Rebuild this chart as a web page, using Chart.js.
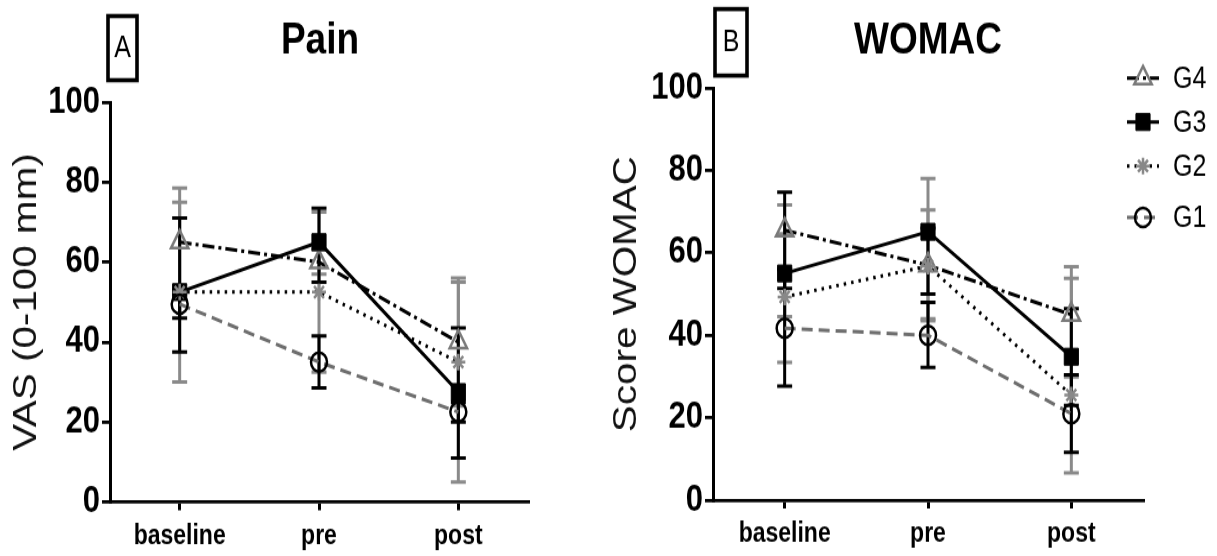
<!DOCTYPE html>
<html><head><meta charset="utf-8">
<script src="https://cdn.jsdelivr.net/npm/chart.js@4.4.1/dist/chart.umd.min.js"></script>
<style>
html,body{margin:0;padding:0;background:#fff;width:1217px;height:556px;overflow:hidden}
canvas{position:absolute;top:0}
#ca{left:0px;width:600px;height:556px}
#cb{left:600px;width:617px;height:556px}
</style></head><body>
<canvas id="ca" width="600" height="468" style="width:600px;height:556px"></canvas>
<canvas id="cb" width="617" height="468" style="width:617px;height:556px"></canvas>
<script>
// ---------- data ----------
const categories = ['baseline', 'pre', 'post'];
const yTicks = [0, 20, 40, 60, 80, 100];
const seriesNames = ['G1', 'G2', 'G3', 'G4'];

// Panel A: Pain, VAS (0-100 mm)
const painG1 = [49.5, 35, 22.5];
const painG2 = [52.5, 52.5, 35];
const painG3 = [52.5, 65, 27.5];
const painG4 = [65, 60, 40];
const painG1Err = [[46, 53], [28.5, 41.5], [20, 25]];
const painG2Err = [[30, 75], [32.5, 72.5], [5, 55]];
const painG3Err = [[37.5, 71], [55, 73.5], [11, 43.5]];
const painG4Err = [[52, 78.5], [57, 63], [24, 56]];

// Panel B: WOMAC score
const womacG1 = [41.7, 40, 21];
const womacG2 = [49.3, 56.8, 25.5];
const womacG3 = [55, 65.1, 34.8];
const womacG4 = [65.5, 57, 45];
const womacG1Err = [[27.7, 56], [32.2, 48], [11.6, 30.4]];
const womacG2Err = [[33.4, 64.6], [43.5, 78], [6.6, 53.8]];
const womacG3Err = [[51.4, 74.7], [50, 66], [23, 46.5]];
const womacG4Err = [[44.5, 71.6], [44, 70.4], [29.9, 56.6]];

// ---------- styles ----------
const SANS = "'Liberation Sans',Arial,'DejaVu Sans',sans-serif";
const GRAY_ERR = '#8a8a8a';

function makeDatasets(vals, errs) {
  return [
    { label: seriesNames[0], data: vals[0], errorBars: errs[0], errColor: '#000',
      borderColor: '#6e6e6e', borderDash: [11, 6], borderWidth: 3,
      pointStyle: 'circle', pointRadius: 8, pointBorderColor: '#000',
      pointBackgroundColor: 'rgba(255,255,255,0)', pointBorderWidth: 2.5 },
    { label: seriesNames[1], data: vals[1], errorBars: errs[1], errColor: GRAY_ERR,
      borderColor: '#000', borderDash: [2.5, 5], borderWidth: 3,
      pointStyle: 'star', pointRadius: 7, pointBorderColor: '#888',
      pointBackgroundColor: '#888', pointBorderWidth: 2.5 },
    { label: seriesNames[2], data: vals[2], errorBars: errs[2], errColor: '#000',
      borderColor: '#000', borderWidth: 3,
      pointStyle: 'rect', pointRadius: 10, pointBorderColor: '#000',
      pointBackgroundColor: '#000', pointBorderWidth: 1 },
    { label: seriesNames[3], data: vals[3], errorBars: errs[3], errColor: GRAY_ERR,
      borderColor: '#000', borderDash: [12, 4, 3, 4], borderWidth: 3,
      pointStyle: 'triangle', pointRadius: 10, pointBorderColor: '#7a7a7a',
      pointBackgroundColor: 'rgba(255,255,255,0)', pointBorderWidth: 2.5 }
  ];
}

const errorBarPlugin = {
  id: 'errorBars',
  beforeDatasetsDraw(chart) {
    const { ctx } = chart;
    const xs = chart.scales.x, ys = chart.scales.y;
    const order = [1, 3, 0, 2];
    order.forEach(di => {
      const ds = chart.data.datasets[di];
      if (!ds || !ds.errorBars) return;
      ctx.save();
      ctx.strokeStyle = ds.errColor;
      ctx.lineWidth = 3;
      ctx.setLineDash([]);
      ds.errorBars.forEach((pair, i) => {
        const px = xs.getPixelForValue(i);
        const y1 = ys.getPixelForValue(pair[0]);
        const y2 = ys.getPixelForValue(pair[1]);
        ctx.beginPath();
        ctx.moveTo(px, y1); ctx.lineTo(px, y2);
        ctx.moveTo(px - 7.5, y1); ctx.lineTo(px + 7.5, y1);
        ctx.moveTo(px - 7.5, y2); ctx.lineTo(px + 7.5, y2);
        ctx.stroke();
      });
      ctx.restore();
    });
  }
};

function decorPlugin(title, titleX, letter, box) {
  return {
    id: 'decor',
    afterDraw(chart) {
      const ctx = chart.ctx;
      ctx.save();
      ctx.fillStyle = '#000';
      ctx.textAlign = 'center';
      ctx.textBaseline = 'alphabetic';
      ctx.font = 'bold 37px ' + SANS;
      ctx.fillText(title, titleX, 44.5);
      ctx.lineWidth = 3.6;
      ctx.strokeStyle = '#000';
      ctx.strokeRect(box[0], box[1], box[2], box[3]);
      ctx.font = '25px ' + SANS;
      ctx.textBaseline = 'middle';
      ctx.fillText(letter, box[0] + box[2] / 2, box[1] + box[3] / 2 + 1);
      ctx.restore();
    }
  };
}

const legendPlugin = {
  id: 'customLegend',
  afterDraw(chart) {
    const ctx = chart.ctx;
    const rows = [[3, 65.7], [2, 102.7], [1, 139.7], [0, 183]];
    rows.forEach(([di, y]) => {
      const ds = chart.data.datasets[di];
      ctx.save();
      ctx.strokeStyle = ds.borderColor;
      ctx.lineWidth = ds.borderWidth;
      ctx.setLineDash(ds.borderDash || []);
      ctx.beginPath();
      ctx.moveTo(527, y); ctx.lineTo(559, y);
      ctx.stroke();
      ctx.setLineDash([]);
      ctx.fillStyle = ds.pointBackgroundColor;
      ctx.strokeStyle = ds.pointBorderColor;
      ctx.lineWidth = ds.pointBorderWidth;
      if (Chart.helpers && Chart.helpers.drawPoint) {
        Chart.helpers.drawPoint(ctx, { pointStyle: ds.pointStyle, rotation: 0,
          radius: ds.pointRadius, borderWidth: ds.pointBorderWidth }, 543, y);
      }
      ctx.fillStyle = '#000';
      ctx.font = '25px ' + SANS;
      ctx.textAlign = 'left';
      ctx.textBaseline = 'middle';
      ctx.fillText(ds.label, 573, y + 1);
      ctx.restore();
    });
  }
};

function makeChart(canvasId, datasets, yTitle, yWidth, xHeight, pad, plugins) {
  return new Chart(document.getElementById(canvasId), {
    type: 'line',
    data: { labels: categories, datasets: datasets },
    options: {
      responsive: false,
      animation: false,
      devicePixelRatio: 1,
      layout: { padding: pad },
      elements: { line: { tension: 0, fill: false } },
      plugins: { legend: { display: false }, tooltip: { enabled: false } },
      scales: {
        x: {
          type: 'category',
          offset: true,
          grid: { display: true, drawOnChartArea: false, drawTicks: true,
                  tickLength: 7, color: '#000', lineWidth: 3 },
          border: { display: true, color: '#000', width: 2.8 },
          ticks: { color: '#000', padding: 8,
                   font: { family: SANS, weight: 'bold', size: 23 } },
          afterFit: s => { s.height = xHeight; }
        },
        y: {
          min: 0, max: 100,
          afterBuildTicks: s => { s.ticks = yTicks.map(v => ({ value: v })); },
          grid: { display: true, drawOnChartArea: false, drawTicks: true,
                  tickLength: 8, color: '#000', lineWidth: 2.8 },
          border: { display: true, color: '#000', width: 3 },
          ticks: { color: '#000', padding: 2,
                   font: { family: SANS, weight: 'bold', size: 31 } },
          title: { display: true, text: yTitle, color: '#111',
                   font: { family: SANS, size: 34, weight: 'normal' },
                   padding: { top: 6, bottom: 0 } },
          afterFit: s => { s.width = yWidth; }
        }
      }
    },
    plugins: plugins
  });
}

makeChart('ca',
  makeDatasets([painG1, painG2, painG3, painG4], [painG1Err, painG2Err, painG3Err, painG4Err]),
  'VAS (0-100 mm)', 110, 45.5, { left: 0, right: 72, top: 86, bottom: 0 },
  [errorBarPlugin, decorPlugin('Pain', 320, 'A', [108, 13.5, 29, 54])]);

makeChart('cb',
  makeDatasets([womacG1, womacG2, womacG3, womacG4], [womacG1Err, womacG2Err, womacG3Err, womacG4Err]),
  'Score WOMAC', 113, 47, { left: 0, right: 74, top: 74, bottom: 0 },
  [errorBarPlugin, legendPlugin, decorPlugin('WOMAC', 328, 'B', [115, 7.6, 32, 56])]);
</script>
</body></html>
